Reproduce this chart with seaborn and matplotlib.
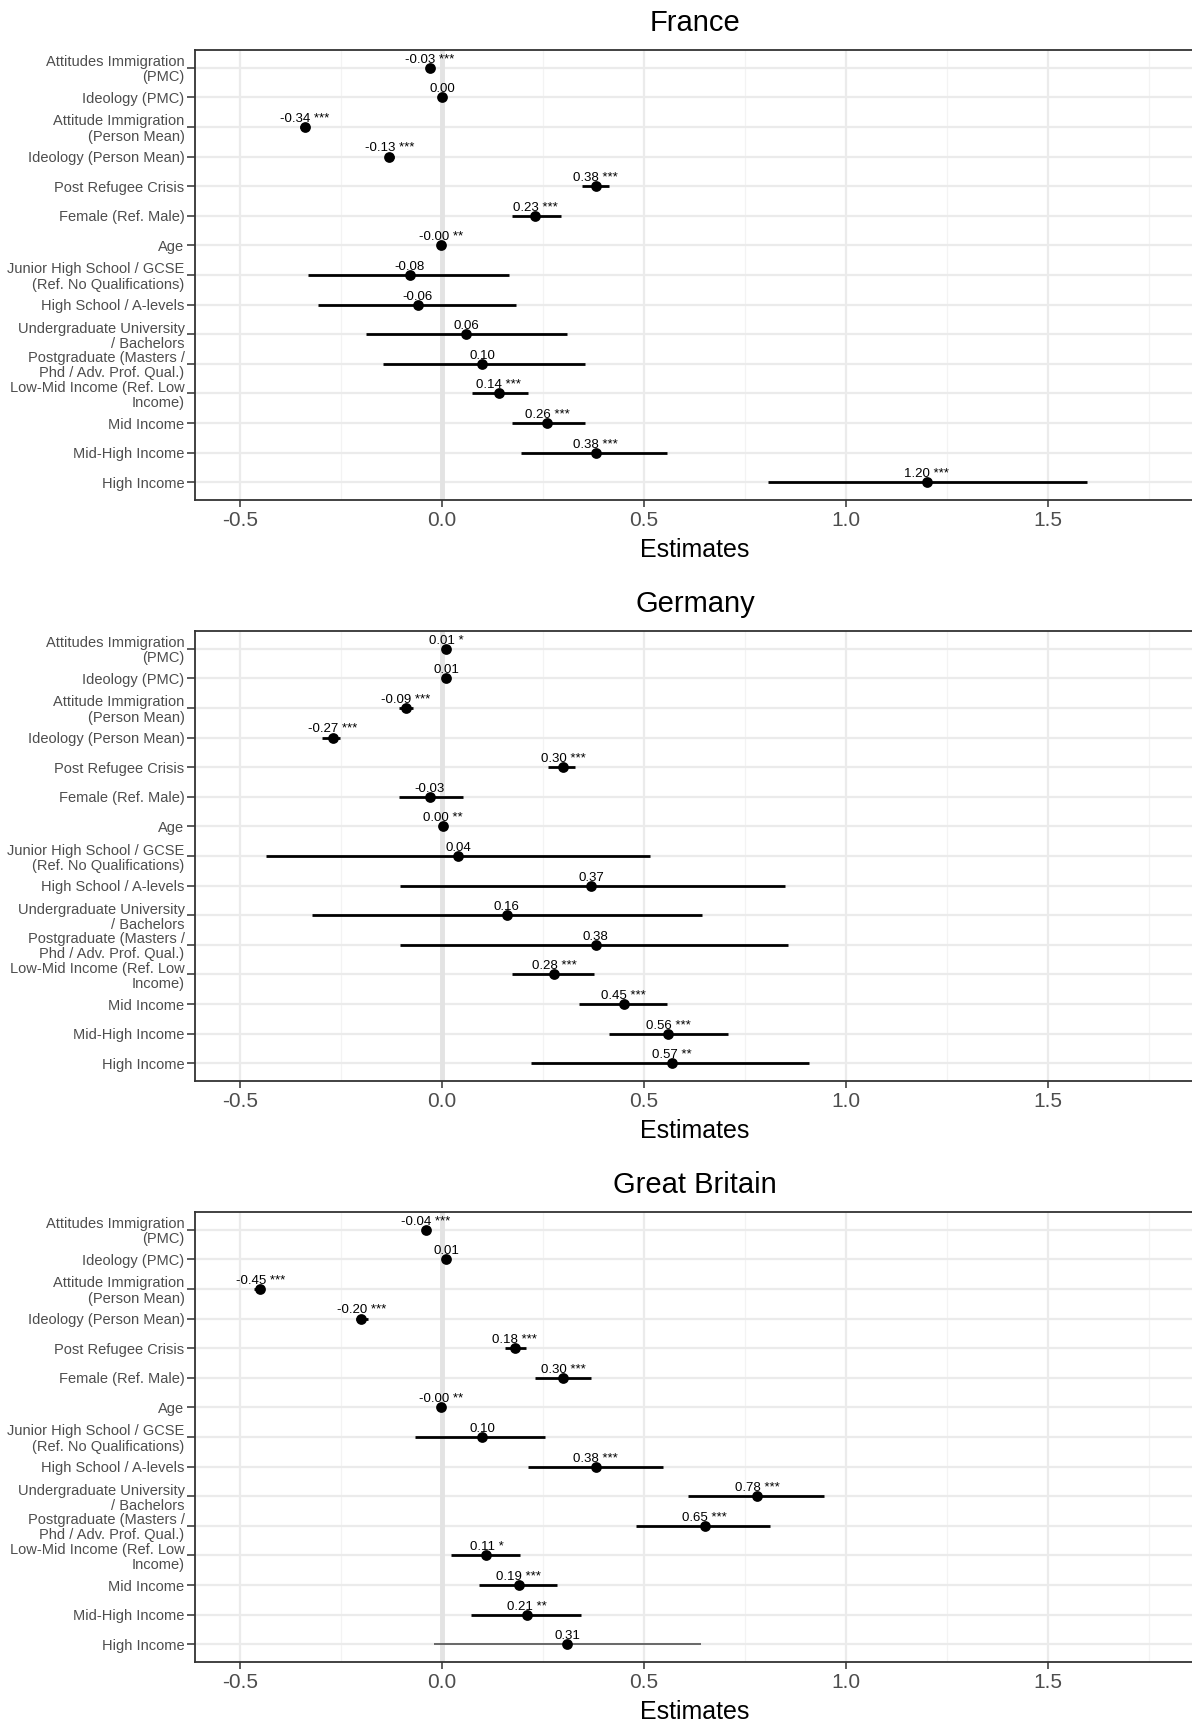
import numpy as np
import pandas as pd
import matplotlib
matplotlib.use("Agg")
import matplotlib.pyplot as plt
import seaborn as sb

termeni = [
    "Attitudes Immigration\n(PMC)",
    "Ideology (PMC)",
    "Attitude Immigration\n(Person Mean)",
    "Ideology (Person Mean)",
    "Post Refugee Crisis",
    "Female (Ref. Male)",
    "Age",
    "Junior High School / GCSE\n(Ref. No Qualifications)",
    "High School / A-levels",
    "Undergraduate University\n/ Bachelors",
    "Postgraduate (Masters /\nPhd / Adv. Prof. Qual.)",
    "Low-Mid Income (Ref. Low\nIncome)",
    "Mid Income",
    "Mid-High Income",
    "High Income",
]

tari = ["France", "Germany", "Great Britain"]

# France
fr_est = [-0.03, 0.001, -0.34, -0.13, 0.38, 0.23, -0.002, -0.08, -0.06, 0.06, 0.10, 0.14, 0.26, 0.38, 1.20]
fr_lo = [-0.035, -0.004, -0.352, -0.142, 0.347, 0.173, -0.004, -0.332, -0.307, -0.188, -0.147, 0.074, 0.173, 0.196, 0.807]
fr_hi = [-0.025, 0.006, -0.328, -0.118, 0.413, 0.295, 0.000, 0.166, 0.183, 0.309, 0.353, 0.213, 0.353, 0.557, 1.597]
fr_stele = ["***", "", "***", "***", "***", "***", "**", "", "", "", "", "***", "***", "***", "***"]

# Germany
de_est = [0.01, 0.01, -0.09, -0.27, 0.30, -0.03, 0.002, 0.04, 0.37, 0.16, 0.38, 0.277, 0.45, 0.56, 0.57]
de_lo = [0.005, 0.004, -0.106, -0.296, 0.263, -0.106, -0.002, -0.436, -0.105, -0.322, -0.103, 0.173, 0.340, 0.413, 0.221]
de_hi = [0.015, 0.016, -0.073, -0.252, 0.329, 0.052, 0.006, 0.516, 0.848, 0.643, 0.856, 0.376, 0.556, 0.709, 0.908]
de_stele = ["*", "", "***", "***", "***", "", "**", "", "", "", "", "***", "***", "***", "**"]

# Great Britain
gb_est = [-0.04, 0.01, -0.45, -0.20, 0.18, 0.30, -0.002, 0.10, 0.38, 0.78, 0.65, 0.11, 0.19, 0.21, 0.31]
gb_lo = [-0.045, 0.004, -0.465, -0.213, 0.155, 0.231, -0.004, -0.066, 0.214, 0.610, 0.480, 0.022, 0.091, 0.071, -0.020]
gb_hi = [-0.035, 0.016, -0.441, -0.183, 0.208, 0.368, 0.002, 0.254, 0.546, 0.945, 0.812, 0.192, 0.285, 0.343, 0.641]
gb_stele = ["***", "", "***", "***", "***", "***", "**", "", "***", "***", "***", "*", "***", "**", ""]

sb.set_theme(style="white")
plt.rcParams["font.family"] = ["Liberation Sans", "DejaVu Sans"]

W, H = 1192, 1729
fig = plt.figure(figsize=(W / 100, H / 100), dpi=100)

# pixel geometry of the panels
stanga, dreapta = 195, 1195
sus = [50, 631, 1212]
inaltime = 450
x_min = (stanga - 442) / 404
x_max = (dreapta - 442) / 404

gri_text = "#4D4D4D"
gri_linie = "#333333"


def panel(ax, est, lo, hi, stele, titlu):
    t = pd.DataFrame({"termen": termeni, "pozitie": np.arange(1, len(termeni) + 1),
                      "est": est, "lo": lo, "hi": hi, "stele": stele})

    ax.set_xlim(x_min, x_max)
    ax.set_ylim(len(termeni) + 0.6, 0.4)

    ax.set_xticks([-0.5, 0.0, 0.5, 1.0, 1.5])
    ax.set_xticklabels(["-0.5", "0.0", "0.5", "1.0", "1.5"])
    ax.set_xticks([-0.25, 0.25, 0.75, 1.25, 1.75], minor=True)
    ax.set_yticks(t["pozitie"])
    ax.set_yticklabels(t["termen"], linespacing=1.1)

    ax.grid(which="major", color="#EBEBEB", lw=1.6, zorder=0)
    ax.grid(which="minor", axis="x", color="#F3F3F3", lw=0.9, zorder=0)
    ax.set_axisbelow(True)
    ax.axvline(0, color="#E3E3E3", lw=3.5, zorder=1)

    # last GB interval is drawn thinner in the original
    latimi = [2.0] * len(t)
    culori = ["black"] * len(t)
    if titlu == "Great Britain":
        latimi[-1] = 1.1
        culori[-1] = "#444444"
    ax.hlines(t["pozitie"], t["lo"], t["hi"], colors=culori, lw=latimi, zorder=2)

    sb.scatterplot(data=t, x="est", y="pozitie", color="black", s=60,
                   linewidth=0, ax=ax, zorder=3, legend=False)

    for i in range(len(t)):
        eticheta = f"{t['est'].iloc[i]:.2f}"
        if t["stele"].iloc[i]:
            eticheta += " " + t["stele"].iloc[i]
        ax.annotate(eticheta, (t["est"].iloc[i], t["pozitie"].iloc[i]),
                    xytext=(0, 1.5), textcoords="offset points",
                    ha="center", va="bottom", fontsize=9.5, color="black", zorder=4)

    ax.set_title(titlu, fontsize=21, pad=14, color="black")
    ax.set_xlabel("Estimates", fontsize=18, color="black", labelpad=6)
    ax.set_ylabel("")

    for s in ["left", "top", "bottom"]:
        ax.spines[s].set_color(gri_linie)
        ax.spines[s].set_linewidth(1.3)
    ax.spines["right"].set_visible(False)

    ax.tick_params(axis="x", which="major", length=5, width=1.1, color=gri_linie,
                   labelsize=15, labelcolor=gri_text, pad=3, bottom=True)
    ax.tick_params(axis="x", which="minor", length=0)
    ax.tick_params(axis="y", length=5.5, width=1.1, color=gri_linie,
                   labelsize=10.5, labelcolor=gri_text, pad=2, left=True)


date = [
    (fr_est, fr_lo, fr_hi, fr_stele),
    (de_est, de_lo, de_hi, de_stele),
    (gb_est, gb_lo, gb_hi, gb_stele),
]

for k, titlu in enumerate(tari):
    jos = H - (sus[k] + inaltime)
    ax = fig.add_axes([stanga / W, jos / H, (dreapta - stanga) / W, inaltime / H])
    est, lo, hi, stele = date[k]
    panel(ax, est, lo, hi, stele, titlu)

fig.savefig("out.png", dpi=100)
